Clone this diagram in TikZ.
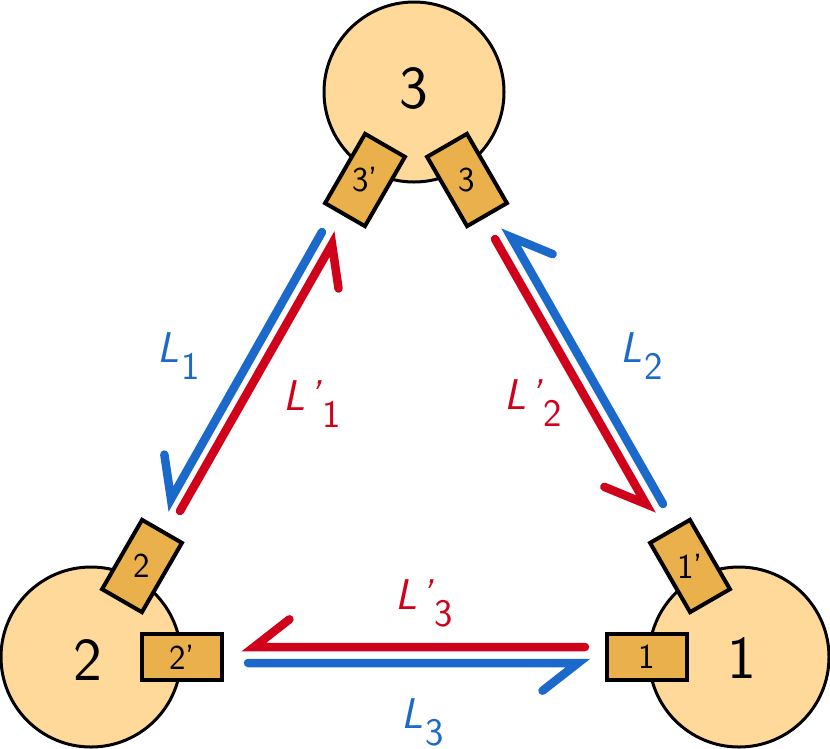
\documentclass[tikz,border=0pt]{standalone}
\usetikzlibrary{calc}
\definecolor{cfill}{RGB}{254,217,154}
\definecolor{bfill}{RGB}{233,176,75}
\definecolor{lblue}{RGB}{27,106,203}
\definecolor{lred}{RGB}{208,2,27}
\newcommand\Lsym[2]{\textit{L}#1\raisebox{-17pt}{\fontsize{39}{40}\selectfont #2}}
\begin{document}
\begin{tikzpicture}[x=1pt,y=-1pt,
  station/.style={circle, draw=black, line width=3pt, fill=cfill, minimum size=180pt, inner sep=0pt},
  port/.style={draw=black, line width=4pt, fill=bfill, minimum width=80pt, minimum height=46pt, inner sep=0pt},
  big/.style={inner sep=0pt, font=\sffamily\fontsize{61}{63}\selectfont},
  ptxt/.style={inner sep=0pt, font=\sffamily\fontsize{35}{37}\selectfont},
  lnk/.style={line width=8.5pt, line cap=round, line join=miter},
  bl/.style={lnk, draw=lblue},
  rd/.style={lnk, draw=lred},
  lab/.style={anchor=base west, inner sep=0pt, font=\sffamily\fontsize{43}{45}\selectfont}]
\useasboundingbox (0,0) rectangle (830,748);
% stations
\node[station] (c3) at (414,92) {};
\node[station] (c2) at (91,657) {};
\node[station] (c1) at (739,657) {};
\node[big] (t3) at (414,88) {3};
\node[big] (t2) at (88,660) {2};
\node[big] (t1) at (742,658) {1};
% ports
\node[port, rotate=60] (p3a) at (365,180) {};
\node[ptxt] at (p3a) {3’};
\node[port, rotate=-60] (p3) at (467,180) {};
\node[ptxt] at (p3) {3};
\node[port, rotate=60] (p2) at (142,566) {};
\node[ptxt] at (p2) {2};
\node[port] (p2a) at (182,657) {};
\node[ptxt] at (p2a) {2’};
\node[port, rotate=-60] (p1a) at (690,566) {};
\node[ptxt] at (p1a) {1’};
\node[port] (p1) at (647,657) {};
\node[ptxt] at (p1) {1};
% links
\coordinate (b1s) at (322,232); \coordinate (b1t) at (171,499);
\coordinate (r1s) at (180,511); \coordinate (r1t) at (332,244);
\coordinate (r2s) at (495,239); \coordinate (r2t) at (646,504);
\coordinate (b2s) at (663,504); \coordinate (b2t) at (511,237);
\coordinate (r3s) at (585,647); \coordinate (r3t) at (254,647);
\coordinate (b3s) at (248,663); \coordinate (b3t) at (578,663);
\draw[bl] (b1s) -- (b1t) -- ($(b1t)!45pt!38:(b1s)$);
\draw[rd] (r1s) -- (r1t) -- ($(r1t)!45pt!38:(r1s)$);
\draw[rd] (r2s) -- (r2t) -- ($(r2t)!45pt!38:(r2s)$);
\draw[bl] (b2s) -- (b2t) -- ($(b2t)!45pt!38:(b2s)$);
\draw[rd] (r3s) -- (r3t) -- ($(r3t)!45pt!38:(r3s)$);
\draw[bl] (b3s) -- (b3t) -- ($(b3t)!45pt!38:(b3s)$);
% labels
\node[lab, text=lblue] (l1) at (157,362) {\Lsym{\kern2pt}{1}};
\node[lab, text=lred] (l1p) at (283,410) {\Lsym{\kern3pt\textit{’}\kern1pt}{1}};
\node[lab, text=lblue] (l2) at (620,362) {\Lsym{\kern2pt}{2}};
\node[lab, text=lred] (l2p) at (504,409) {\Lsym{\kern3pt\textit{’}\kern1pt}{2}};
\node[lab, text=lred] (l3p) at (395,609) {\Lsym{\kern3pt\textit{’}\kern1pt}{3}};
\node[lab, text=lblue] (l3) at (401,728) {\Lsym{\kern2pt}{3}};
\end{tikzpicture}
\end{document}
